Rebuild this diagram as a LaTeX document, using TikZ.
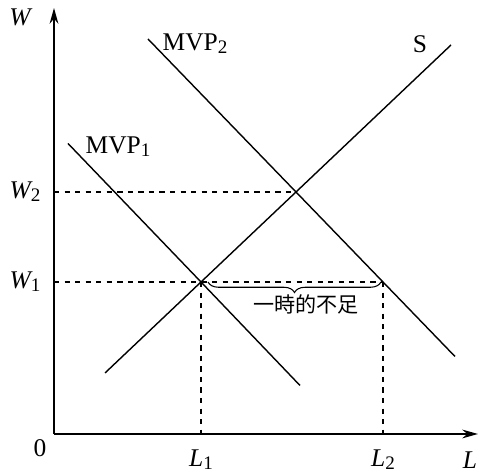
\documentclass[tikz,border=0pt]{standalone}
\usepackage{fontspec}
\usepackage{graphicx}
\setmainfont{Liberation Serif}
\newfontfamily\jpfont{Noto Sans CJK JP}
\usetikzlibrary{arrows.meta}
\usetikzlibrary{decorations.pathreplacing}
\newcommand{\lowidx}[1]{\raisebox{-0.25ex}{\scalebox{0.75}{\upshape #1}}}

\begin{document}
\begin{tikzpicture}[font=\fontsize{14.5}{16}\selectfont,
    axis/.style={line width=0.8pt, -{Stealth[length=9pt,width=5pt]}},
    curve/.style={line width=0.8pt},
    guide/.style={dashed, line width=0.6pt, dash pattern=on 3pt off 3pt}]
\useasboundingbox (-1.08, -0.8) rectangle (8.52, 8.68);
% points
\coordinate (O) at (0, 0);
\coordinate (E1) at (2.94, 3.04);
\coordinate (E2) at (4.84, 4.84);
\coordinate (E3) at (6.58, 3.04);
\coordinate (A1) at (0, 3.04);
\coordinate (A2) at (0, 4.84);
\coordinate (B1) at (2.94, 0);
\coordinate (B2) at (6.58, 0);
% axes
\draw[axis] (O) -- (0, 8.52);
\draw[axis] (O) -- (8.48, 0);
% guides
\draw[guide] (A2) -- (E2);
\draw[guide] (A1) -- (E3);
\draw[guide] (E1) -- (B1);
\draw[guide] (E3) -- (B2);
% curves
\draw[curve] (1.02, 1.22) -- (E1) -- (E2) -- (7.94, 7.78);
\draw[curve] (0.28, 5.81) -- (E1) -- (4.92, 0.97);
\draw[curve] (1.88, 7.90) -- (E2) -- (E3) -- (8.02, 1.55);
% brace
\draw[line width=0.6pt, decorate, decoration={brace, mirror, amplitude=6pt}]
    (3.08, 3.04) -- (6.54, 3.04);
% labels
\draw (-0.28, -0.28) node {0}
    (-0.68, 8.34) node {\itshape W}
    (-0.58, 4.84) node {\itshape W\lowidx{2}}
    (-0.58, 3.04) node {\itshape W\lowidx{1}}
    (2.94, -0.52) node[inner ysep=1pt] {\itshape L\lowidx{1}}
    (6.58, -0.52) node[inner ysep=1pt] {\itshape L\lowidx{2}}
    (8.32, -0.52) node[inner ysep=1pt] {\itshape L}
    (2.82, 7.80) node {MVP\lowidx{2}}
    (1.28, 5.74) node {MVP\lowidx{1}}
    (7.32, 7.80) node {S}
    (5.04, 2.60) node {\fontsize{12}{14}\selectfont\jpfont 一時的不足};
\end{tikzpicture}
\end{document}
